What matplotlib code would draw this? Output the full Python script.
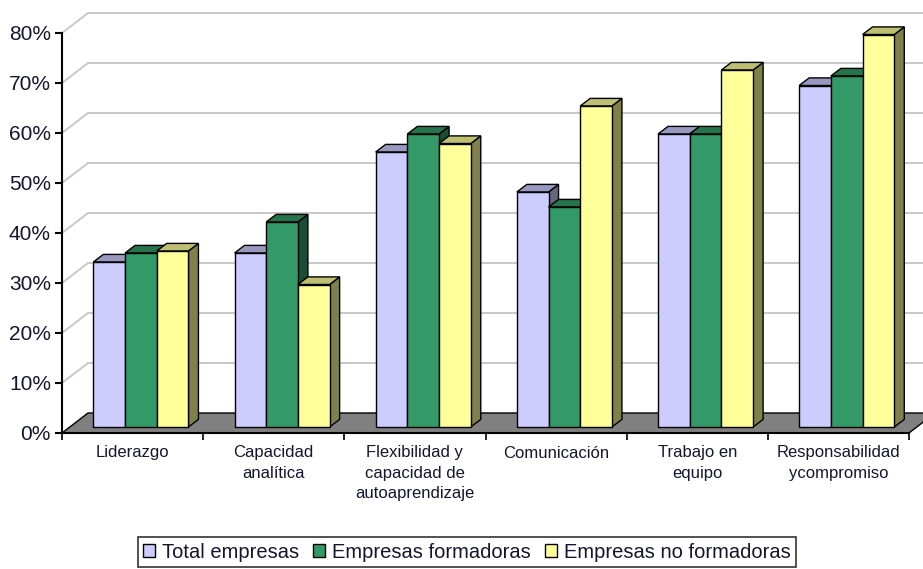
import matplotlib
matplotlib.use("Agg")
import matplotlib.pyplot as plt
from matplotlib.patches import Polygon, Patch

plt.rcParams['font.family'] = ['Liberation Sans', 'DejaVu Sans']

categories = ["Liderazgo", "Capacidad\nanalítica", "Flexibilidad y\ncapacidad de\nautoaprendizaje",
              "Comunicación", "Trabajo en\nequipo", "Responsabilidad\nycompromiso"]
series_names = ["Total empresas", "Empresas formadoras", "Empresas no formadoras"]
total_empresas = [33.0, 34.8, 55.0, 47.0, 58.6, 68.3]
empresas_formadoras = [34.8, 41.0, 58.6, 44.0, 58.6, 70.2]
empresas_no_formadoras = [35.2, 28.5, 56.7, 64.2, 71.4, 78.5]
y_ticks = [0, 10, 20, 30, 40, 50, 60, 70, 80]
y_tick_labels = ["0%", "10%", "20%", "30%", "40%", "50%", "60%", "70%", "80%"]

series = [total_empresas, empresas_formadoras, empresas_no_formadoras]
front_colors = ["#CCCCFF", "#339966", "#FFFF99"]
top_colors = ["#9999C0", "#26734C", "#BFBF73"]
side_colors = ["#666680", "#1A4D33", "#80804D"]
text_color = "#15152e"

W, H = 923, 569
fig = plt.figure(figsize=(W / 100, H / 100), dpi=100)
# front plane of the plot: x 62..909 px, 0% at y=433 px, 80% at y=33 px
ax = fig.add_axes([62 / W, (H - 433) / H, 847 / W, 400 / H])
ax.set_xlim(0, 6)
ax.set_ylim(0, 80)
ax.patch.set_visible(False)

px_x = 6 / 847.0      # category units per pixel
px_y = 80 / 400.0     # percent per pixel

# oblique depth of the plot box
wall_dx, wall_dy = 26 * px_x, 20 * px_y
# bars sit in the middle of the depth
bar_front_dy = 6 * px_y
bar_depth_dx, bar_depth_dy = 10 * px_x, 7.6 * px_y
bar_w = 31.7 * px_x

# back wall gridlines with their diagonal on the left wall
for v in y_ticks[1:]:
    ax.plot([0, wall_dx, 6.5], [v, v + wall_dy, v + wall_dy], color="#c8c8c8",
            lw=1.4, clip_on=False, zorder=1, solid_capstyle="butt")

# floor
floor = Polygon([(0, 0), (6, 0), (6 + wall_dx, wall_dy), (wall_dx, wall_dy)], closed=True,
                facecolor="#808080", edgecolor="black", lw=1.0, clip_on=False, zorder=2)
ax.add_patch(floor)

for j, vals in enumerate(series):
    lefts = [i + 0.222 + j * bar_w for i in range(len(categories))]
    base = bar_front_dy
    z = 3 + 3 * j
    for x0, v in zip(lefts, vals):
        top = base + v
        x1 = x0 + bar_w
        side = Polygon([(x1, base), (x1 + bar_depth_dx, base + bar_depth_dy),
                        (x1 + bar_depth_dx, top + bar_depth_dy), (x1, top)], closed=True,
                       facecolor=side_colors[j], edgecolor="black", lw=1.0,
                       clip_on=False, zorder=z)
        lid = Polygon([(x0, top), (x1, top), (x1 + bar_depth_dx, top + bar_depth_dy),
                       (x0 + bar_depth_dx, top + bar_depth_dy)], closed=True,
                      facecolor=top_colors[j], edgecolor="black", lw=1.0,
                      clip_on=False, zorder=z + 1)
        ax.add_patch(side)
        ax.add_patch(lid)
    ax.bar(lefts, vals, width=bar_w, bottom=base, align="edge", color=front_colors[j],
           edgecolor="black", linewidth=1.0, clip_on=False, zorder=z + 2)

# axes
for s in ["top", "right"]:
    ax.spines[s].set_visible(False)
ax.spines["left"].set_linewidth(1.5)
ax.spines["bottom"].set_linewidth(1.5)
ax.spines["left"].set_zorder(2.5)
ax.spines["bottom"].set_zorder(2.5)

ax.set_yticks(y_ticks)
ax.set_yticklabels(y_tick_labels, fontsize=15, color=text_color)
ax.tick_params(axis="y", direction="out", length=5, width=1.5, pad=3)

ax.set_xticks(range(7))
ax.set_xticklabels([])
ax.tick_params(axis="x", which="major", direction="out", length=5, width=1.2)
ax.set_xticks([i + 0.5 for i in range(len(categories))], minor=True)
ax.set_xticklabels(categories, minor=True, fontsize=12, color=text_color, linespacing=1.45)
ax.tick_params(axis="x", which="minor", length=0, pad=9)

handles = [Patch(facecolor=c, edgecolor="black", lw=1.0) for c in front_colors]
leg = fig.legend(handles, series_names, loc="center", bbox_to_anchor=(467 / W, 1 - 552 / H),
                 ncol=3, fontsize=14.5, frameon=True, fancybox=False, handlelength=0.6,
                 handleheight=0.6, handletextpad=0.35, columnspacing=0.7, borderpad=0.25,
                 borderaxespad=0)
leg.get_frame().set_edgecolor("black")
leg.get_frame().set_linewidth(1.2)
for t in leg.get_texts():
    t.set_color(text_color)

fig.savefig("out.png", dpi=100)
